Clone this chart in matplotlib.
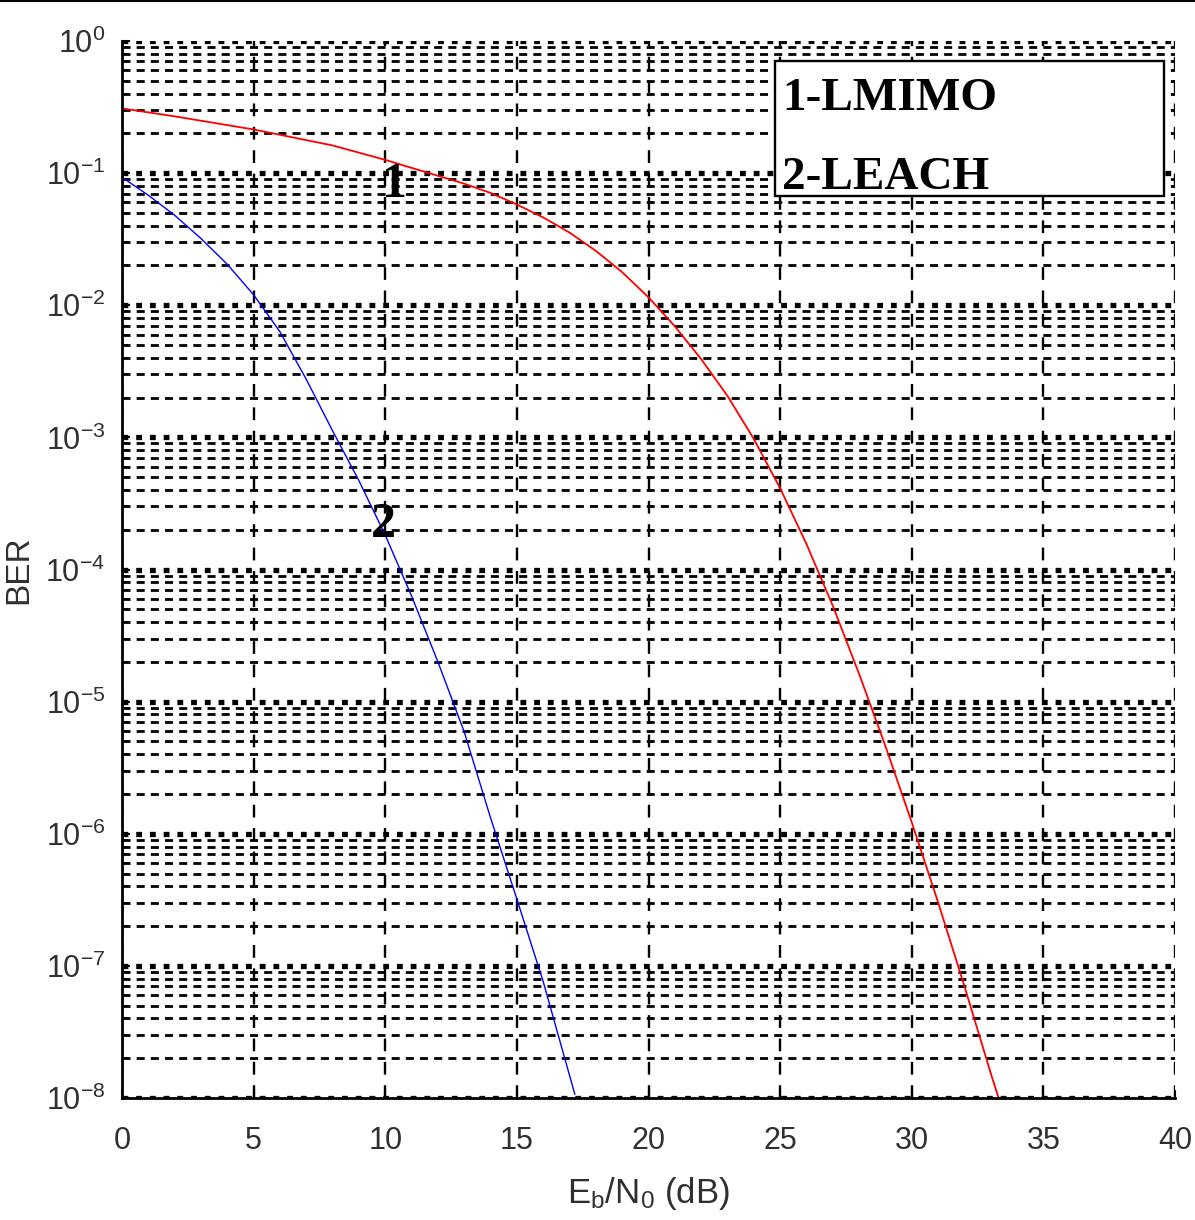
import matplotlib
matplotlib.use("Agg")
import matplotlib.pyplot as plt
from matplotlib import font_manager
from matplotlib.lines import Line2D
from matplotlib.patches import Rectangle
from matplotlib.ticker import LogLocator, FixedLocator, NullFormatter, LogFormatterSciNotation

# ---------------- data ----------------
snr_lmimo = [0, 2, 5, 8, 10, 11, 12, 13, 14, 15, 16, 17, 18, 19, 20, 21, 22,
             23, 24, 25, 26, 27, 28, 29, 30, 31, 32, 33, 33.3]
ber_lmimo = [3.09e-1, 2.69e-1, 2.14e-1, 1.62e-1, 1.26e-1, 1.096e-1, 9.55e-2,
             8.32e-2, 7.08e-2, 5.79e-2, 4.62e-2, 3.55e-2, 2.58e-2, 1.78e-2,
             1.148e-2, 6.93e-3, 3.91e-3, 2.06e-3, 9.73e-4, 4.12e-4, 1.56e-4,
             5.32e-5, 1.62e-5, 4.61e-6, 1.22e-6, 3.03e-7, 7.03e-8, 1.54e-8,
             1.0e-8]

snr_leach = [0, 1, 2, 3, 4, 5, 6, 7, 8, 9, 10, 11, 12, 13, 14, 15, 16, 17.2]
ber_leach = [9.3e-2, 6.8e-2, 4.8e-2, 3.2e-2, 2.04e-2, 1.2e-2, 6.3e-3,
             2.75e-3, 1.12e-3, 4.7e-4, 1.82e-4, 6.3e-5, 2.0e-5, 5.9e-6,
             1.32e-6, 3.2e-7, 7.6e-8, 1.07e-8]

x_ticks = [0, 5, 10, 15, 20, 25, 30, 35, 40]
y_ticks = [1e-8, 1e-7, 1e-6, 1e-5, 1e-4, 1e-3, 1e-2, 1e-1, 1e0]
legend_lines = ["1-LMIMO", "2-LEACH"]
curve_labels = ["1", "2"]

# ---------------- fonts ----------------
names = {f.name for f in font_manager.fontManager.ttflist}
sans = "Liberation Sans Narrow" if "Liberation Sans Narrow" in names else "Liberation Sans"
plt.rcParams['font.family'] = [sans, 'DejaVu Sans']
plt.rcParams['mathtext.fontset'] = 'custom'
plt.rcParams['mathtext.rm'] = sans
plt.rcParams['mathtext.it'] = sans
plt.rcParams['mathtext.bf'] = sans
plt.rcParams['mathtext.default'] = 'regular'
plt.rcParams['axes.unicode_minus'] = False

W, H = 1195, 1220
fig = plt.figure(figsize=(W / 100, H / 100), dpi=100)
L, R, T, B = 122, 1175, 41, 1098
ax = fig.add_axes([L / W, (H - B) / H, (R - L) / W, (B - T) / H])

ax.set_yscale('log')
ax.set_xlim(0, 40)
ax.set_ylim(1e-8, 1)

ax.plot(snr_lmimo, ber_lmimo, color='#ff0000', lw=1.3, zorder=3)
ax.plot(snr_leach, ber_leach, color='#0000ff', lw=1.0, zorder=3)

# ticks
ax.xaxis.set_major_locator(FixedLocator(x_ticks))
ax.yaxis.set_major_locator(FixedLocator(y_ticks))
ax.yaxis.set_major_formatter(LogFormatterSciNotation())
ax.yaxis.set_minor_locator(LogLocator(base=10, subs=range(2, 10), numticks=20))
ax.yaxis.set_minor_formatter(NullFormatter())
ax.tick_params(axis='both', which='both', direction='in', color='black')
ax.tick_params(axis='y', which='major', length=6, width=1.5, labelsize=22,
               labelcolor='#303030', pad=12)
ax.tick_params(axis='y', which='minor', length=4, width=1.2)
ax.tick_params(axis='x', which='major', length=6, width=1.5, labelsize=22,
               labelcolor='#303030', pad=20)

# grids
ax.set_axisbelow(True)
ax.yaxis.grid(True, which='major', color='black', lw=3.8, ls=(0, (1.1, 1.5)))
ax.yaxis.grid(True, which='minor', color='black', lw=2.0, ls=(0, (2.9, 2.2)))
ax.xaxis.grid(True, which='major', color='black', lw=1.7, ls=(0, (5.4, 4.5)))

for s in ['top', 'right']:
    ax.spines[s].set_visible(False)
for s in ['left', 'bottom']:
    ax.spines[s].set_linewidth(2.0)
    ax.spines[s].set_color('black')
    ax.spines[s].set_zorder(4)

ax.set_xlabel(r'E$_{\mathdefault{b}}$/N$_{\mathdefault{0}}$ (dB)', fontsize=25,
              color='#303030', labelpad=14)
ax.set_ylabel('BER', fontsize=24, color='#303030')
ax.yaxis.set_label_coords((34 - L) / (R - L), 0.5)

# curve number labels
serif = ['Liberation Serif', 'DejaVu Serif']
ax.text(10.37, 0.066, curve_labels[0], family=serif, fontweight='bold',
        fontsize=36, ha='center', va='baseline', color='black', zorder=5)
ax.text(9.91, 1.76e-4, curve_labels[1], family=serif, fontweight='bold',
        fontsize=36, ha='center', va='baseline', color='black', zorder=5)

# legend box
bx0 = (775 - L) / (R - L)
bx1 = (1164 - L) / (R - L)
by0 = (B - 196) / (B - T)
by1 = (B - 61) / (B - T)
ax.add_patch(Rectangle((bx0, by0), bx1 - bx0, by1 - by0, transform=ax.transAxes,
                       facecolor='white', edgecolor='black', lw=1.7, zorder=6))
tx = (782 - L) / (R - L)
for txt, ypx in zip(legend_lines, [110, 189]):
    ax.text(tx, (B - ypx) / (B - T), txt, transform=ax.transAxes, family=serif,
            fontweight='bold', fontsize=34, ha='left', va='baseline',
            color='black', zorder=7)

# thin black line across the top edge of the image
fig.add_artist(Line2D([0, 1], [0.9993, 0.9993], transform=fig.transFigure,
                      color='black', lw=1.5))

fig.savefig('out.png', dpi=100)
